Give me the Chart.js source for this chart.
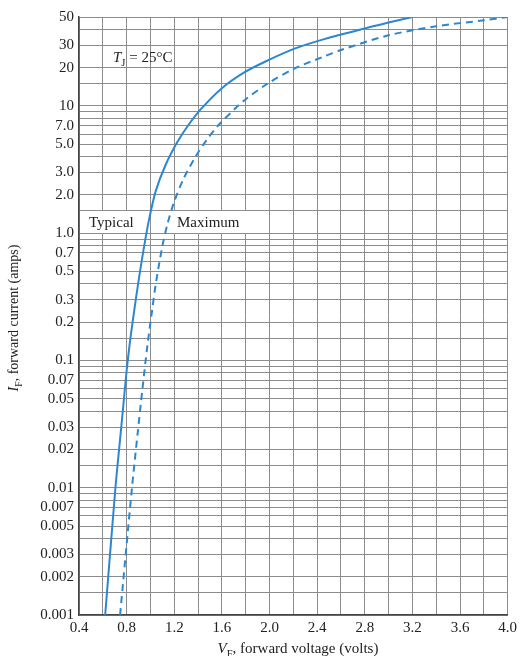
<!DOCTYPE html>
<html>
<head>
<meta charset="utf-8">
<script src="https://cdn.jsdelivr.net/npm/chart.js@4"></script>
<style>
  body { margin: 0; background: #fff; }
  #wrap { width: 521px; height: 656px; position: relative; }
</style>
</head>
<body>
<div id="wrap"><canvas id="diodeChart"></canvas></div>
<script>
  // forward voltage (V) / forward current (A)
  const typicalV = [0.62, 0.706, 0.745, 0.775, 0.80, 0.83, 0.864, 0.9, 0.942, 0.989, 1.045, 1.128, 1.226, 1.322, 1.433, 1.6, 1.795, 1.99, 2.21, 2.46, 2.8, 3.0, 3.2]
  const typicalI = [0.001, 0.01, 0.024, 0.047, 0.083, 0.145, 0.248, 0.42, 0.74, 1.29, 2.15, 3.45, 5.2, 7.15, 9.65, 13.8, 18.5, 22.9, 28.2, 33.5, 40.7, 45.2, 50]
  const maximumV = [0.745, 0.845, 0.893, 0.933, 0.975, 1.012, 1.045, 1.1, 1.142, 1.197, 1.28, 1.378, 1.47, 1.573, 1.712, 1.795, 1.99, 2.21, 2.46, 2.6, 3.0, 3.4, 3.8, 4.0]
  const maximumI = [0.001, 0.01, 0.027, 0.06, 0.132, 0.24, 0.40, 0.79, 1.17, 1.74, 2.7, 3.98, 5.37, 7.08, 9.55, 11.2, 15.1, 19.7, 24.5, 27.5, 35.9, 42.3, 47.1, 50]

  const yTickLabels = ['50', '30', '20', '10', '7.0', '5.0', '3.0', '2.0', '1.0', '0.7', '0.5', '0.3', '0.2', '0.1',
    '0.07', '0.05', '0.03', '0.02', '0.01', '0.007', '0.005', '0.003', '0.002', '0.001']
  const gridDecades = [0.001, 0.01, 0.1, 1, 10]
  const gridSteps = [1, 1.5, 2, 3, 4, 5, 6, 7, 8, 9]

  let gridValues = []
  for (const d of gridDecades) {
    for (const s of gridSteps) {
      const v = +(d * s).toPrecision(3)
      if (v <= 50) gridValues.push(v)
    }
  }
  let labelMap = {}
  for (const t of yTickLabels) labelMap[+t] = t

  function toPoints(xs, ys) {
    return xs.map((x, i) => ({ x: x, y: ys[i] }))
  }

  const serif = '"Liberation Serif", "DejaVu Serif", serif'

  // text with italic letter + subscript
  function drawRich(ctx, parts, x, y, size, align) {
    let total = 0
    const fonts = parts.map(p => {
      const f = (p.italic ? 'italic ' : '') + (p.sub ? size * 0.7 : size) + 'px ' + serif
      ctx.font = f
      p.w = ctx.measureText(p.text).width
      total += p.w
      return f
    })
    let cx = align === 'center' ? x - total / 2 : x
    ctx.textAlign = 'left'
    ctx.textBaseline = 'alphabetic'
    parts.forEach((p, i) => {
      ctx.font = fonts[i]
      ctx.fillText(p.text, cx, p.sub ? y + size * 0.25 : y)
      cx += p.w
    })
  }

  const labelsPlugin = {
    id: 'labels',
    afterDatasetsDraw(chart) {
      const ctx = chart.ctx
      ctx.save()
      ctx.fillStyle = '#fff'
      ctx.fillRect(86, 211, 56, 22)
      ctx.fillRect(174, 211, 76, 22)
      ctx.fillStyle = '#222'
      drawRich(ctx, [{ text: 'Typical' }], 89, 227, 15)
      drawRich(ctx, [{ text: 'Maximum' }], 177, 227, 15)
      drawRich(ctx, [{ text: 'T', italic: true }, { text: 'J', sub: true }, { text: ' = 25°C' }], 113, 62, 15)
      drawRich(ctx, [{ text: 'V', italic: true }, { text: 'F', sub: true }, { text: ', forward voltage (volts)' }], 298, 653, 15, 'center')
      ctx.translate(18, 318)
      ctx.rotate(-Math.PI / 2)
      drawRich(ctx, [{ text: 'I', italic: true }, { text: 'F', sub: true }, { text: ', forward current (amps)' }], 0, 0, 14, 'center')
      ctx.restore()
    }
  }

  let ctx = document.getElementById('diodeChart').getContext('2d')
  let diodeChart = new Chart(ctx, {
    type: 'line',
    data: {
      datasets: [{
        label: 'Typical',
        data: toPoints(typicalV, typicalI),
        borderColor: '#2b87d1',
        borderWidth: 2,
        pointRadius: 0,
        tension: 0.3,
        fill: false
      }, {
        label: 'Maximum',
        data: toPoints(maximumV, maximumI),
        borderColor: '#2b87d1',
        borderWidth: 2,
        borderDash: [7, 5],
        pointRadius: 0,
        tension: 0.3,
        fill: false
      }]
    },
    options: {
      responsive: true,
      maintainAspectRatio: false,
      animation: false,
      layout: { padding: { top: 17, right: 0, left: 0, bottom: 0 } },
      plugins: { legend: { display: false }, tooltip: { enabled: false } },
      scales: {
        x: {
          type: 'linear',
          min: 0.4,
          max: 4.0,
          afterFit: s => { s.height = 41 },
          border: { color: '#444', width: 1.5 },
          grid: { color: '#8c8c8c', drawTicks: false },
          ticks: {
            stepSize: 0.2,
            padding: 4,
            maxRotation: 0,
            minRotation: 0,
            autoSkip: false,
            color: '#222',
            font: { family: serif, size: 15 },
            callback: (v, i) => i % 2 === 0 ? v.toFixed(1) : ''
          }
        },
        y: {
          type: 'logarithmic',
          min: 0.001,
          max: 50,
          afterFit: s => { s.width = 79 },
          afterBuildTicks: s => { s.ticks = gridValues.map(v => ({ value: v })) },
          border: { color: '#444', width: 1.5 },
          grid: { color: '#8c8c8c', drawTicks: false },
          ticks: {
            autoSkip: false,
            padding: 5,
            color: '#222',
            font: { family: serif, size: 15 },
            callback: v => labelMap[v] || ''
          }
        }
      }
    },
    plugins: [labelsPlugin]
  })
</script>
</body>
</html>
